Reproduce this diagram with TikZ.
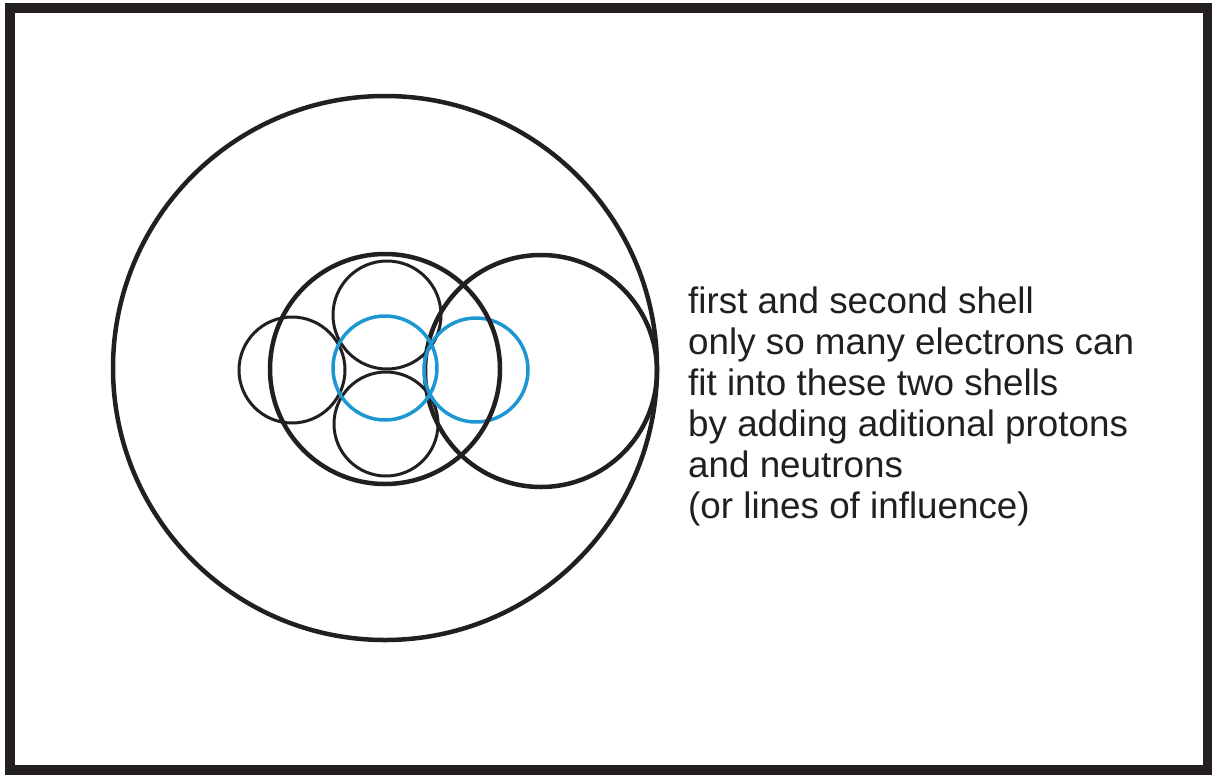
\documentclass[tikz,border=0pt]{standalone}
\usepackage{fontspec}
\setmainfont{Liberation Sans}
\definecolor{shellblue}{RGB}{30,150,210}
\definecolor{ink}{RGB}{35,31,32}
\begin{document}
\begin{tikzpicture}[x=1pt,y=-1pt,
  frame/.style={draw=ink, line width=10pt},
  bigring/.style={draw=ink, line width=4.5pt},
  shellring/.style={draw=ink, line width=4.5pt},
  smallring/.style={draw=ink, line width=3pt},
  bluering/.style={draw=shellblue, line width=3.5pt},
  txt/.style={anchor=base west, inner sep=0pt, font=\fontsize{36.8}{41}\selectfont, text=ink}]
\useasboundingbox (0,0) rectangle (1212,774);
\fill[white] (0,0) rectangle (1212,774);
\draw[frame] (10,8) rectangle (1208,770);
% outer big circle
\draw[bigring] (385,368) circle (272);
% right large circle
\draw[bigring] (541,371) circle (116);
% small black circles
\draw[smallring] (292,370) circle (53);
\draw[smallring] (387,315) circle (54);
\draw[smallring] (386,424) circle (52);
% blue circles
\draw[bluering] (385,368) circle (52);
\draw[bluering] (476,370) circle (52);
% middle shell
\draw[shellring] (385,369) circle (115);
% text
\node[txt] (l1) at (688,313) {first and second shell};
\node[txt] (l2) at (688,354) {only so many electrons can};
\node[txt] (l3) at (688,395) {fit into these two shells};
\node[txt] (l4) at (688,436) {by adding aditional protons};
\node[txt] (l5) at (688,477) {and neutrons};
\node[txt] (l6) at (688,518) {(or lines of influence)};
\end{tikzpicture}
\end{document}
